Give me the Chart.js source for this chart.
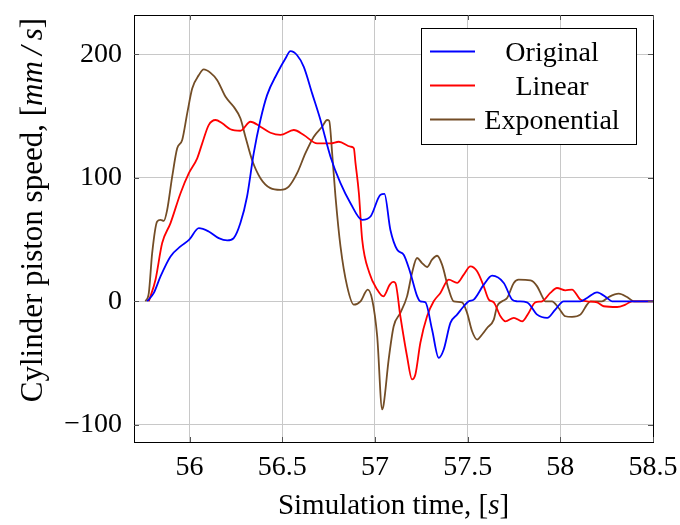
<!DOCTYPE html>
<html>
<head>
<meta charset="utf-8">
<script src="https://cdn.jsdelivr.net/npm/chart.js@4.4.1/dist/chart.umd.min.js"></script>
<style>
    html, body { margin: 0; padding: 0; background: #fff; }
    #wrap { width: 680px; height: 525px; }
</style>
</head>
<body>
<div id="wrap"><canvas id="speed-chart" width="680" height="525"></canvas></div>
<script>
// cylinder piston speed: original signal vs. linear and exponential fits

var xTicks = [56, 56.5, 57, 57.5, 58, 58.5];
var yTicks = [-100, 0, 100, 200];
var seriesNames = ['Original', 'Linear', 'Exponential'];

var origTime = [55.771, 55.807, 55.843, 55.897, 55.951, 55.998, 56.05, 56.103, 56.157, 56.203, 56.238, 56.274,
    56.31, 56.346, 56.382, 56.418, 56.472, 56.517, 56.544, 56.58, 56.616, 56.661, 56.706, 56.76, 56.814, 56.868,
    56.931, 56.976, 57.03, 57.051, 57.083, 57.12, 57.155, 57.191, 57.228, 57.245, 57.272, 57.308, 57.344, 57.371,
    57.407, 57.443, 57.479, 57.506, 57.533, 57.587, 57.632, 57.695, 57.74, 57.767, 57.82, 57.875, 57.929, 57.973,
    58.018, 58.108, 58.144, 58.198, 58.252, 58.279, 58.5];
var origSpeed = [0, 6.8, 20.2, 36.4, 44.5, 49.9, 59.3, 56.6, 51.2, 49.3, 51.2, 63.4,
    84.9, 120, 146.9, 167.1, 184.6, 196.8, 202.7, 199.4, 190, 168.5, 146.9, 117.2, 95.7, 79.5,
    66, 68.7, 86.3, 87, 58, 41.8, 37.8, 23, 4, 0, -0.8, -22.9, -45.8, -39,
    -17.5, -10.8, -4, 0, 1.4, 13.5, 20.8, 14.9, 1.4, 0, -0.8, -10.8, -13.4, -6.7,
    0, 0, 2.7, 7.3, 2.7, 0, 0];

var linTime = [55.78, 55.816, 55.852, 55.897, 55.951, 55.996, 56.041, 56.068, 56.103, 56.14, 56.176, 56.22,
    56.274, 56.328, 56.382, 56.436, 56.49, 56.562, 56.616, 56.688, 56.76, 56.805, 56.868, 56.886, 56.895, 56.913,
    56.931, 56.97, 57.012, 57.045, 57.08, 57.098, 57.11, 57.137, 57.173, 57.2, 57.218, 57.245, 57.281, 57.317,
    57.353, 57.398, 57.443, 57.479, 57.515, 57.551, 57.587, 57.614, 57.641, 57.677, 57.704, 57.749, 57.794, 57.829,
    57.865, 57.902, 57.946, 57.982, 58.027, 58.063, 58.108, 58.144, 58.198, 58.234, 58.306, 58.351, 58.387, 58.5];
var linSpeed = [0, 17.5, 47.2, 63.4, 87.6, 103.8, 115.9, 128, 142.8, 146.9, 144.2, 139.4,
    138.2, 145.5, 141.5, 136.6, 134.8, 138.8, 134.8, 128, 128, 129.3, 125.3, 124, 112, 88,
    50, 23, 9.5, 4, 13.5, 15.7, 14.9, -12.1, -44.5, -63.3, -59.3, -33.6, -12.1, 0,
    6.8, 17.5, 14.9, 21.6, 28.3, 24.3, 12.1, 1.4, -0.8, -12.1, -16.2, -13.4, -16.2, -9.4,
    -0.8, 0, 6.8, 10.8, 8.9, 9.5, 1.4, 0, -0.8, -4, -4.6, -2.7, 0, 0];

var expTime = [55.762, 55.78, 55.798, 55.825, 55.843, 55.861, 55.879, 55.906, 55.933, 55.96, 55.987, 56.014,
    56.05, 56.076, 56.113, 56.149, 56.194, 56.238, 56.274, 56.301, 56.337, 56.382, 56.436, 56.49, 56.535, 56.58,
    56.625, 56.67, 56.715, 56.742, 56.753, 56.769, 56.787, 56.814, 56.85, 56.886, 56.922, 56.961, 56.985, 57.012,
    57.039, 57.047, 57.074, 57.101, 57.137, 57.173, 57.2, 57.227, 57.254, 57.281, 57.308, 57.335, 57.362, 57.398,
    57.425, 57.47, 57.497, 57.524, 57.551, 57.578, 57.605, 57.641, 57.659, 57.686, 57.713, 57.749, 57.775, 57.839,
    57.875, 57.902, 57.919, 57.955, 57.991, 58.027, 58.063, 58.108, 58.144, 58.162, 58.225, 58.261, 58.315, 58.36,
    58.396, 58.5];
var expSpeed = [0, 6.8, 39.1, 64.7, 66, 65.2, 74.1, 101, 124, 130.7, 152.3, 172.5,
    183.3, 187.9, 185.1, 179.2, 165.7, 157.6, 148.3, 133.4, 114.5, 99.8, 91.7, 90.3, 93, 103.8,
    120, 133.4, 141.5, 146.9, 146.3, 120, 84.9, 44.5, 12.1, -2.7, 0, 9.5, 1.4, -28.3,
    -87.6, -83.5, -47.1, -20.2, -9.4, 4, 23, 35.1, 31, 27.8, 33.7, 36.9, 29.7, 9.5,
    0, -0.8, -9.4, -24.3, -31, -26.9, -21.6, -14.8, -4, 0, 2.7, 14.9, 17.5, 17,
    12.1, 4, 0, 0, -5.4, -12.1, -12.6, -10.8, -2.7, 0, 0, 3.5, 6.2, 3.5,
    0, 0];

var lineColors = ['#0000ff', '#ff0000', '#734d26'];

var serifFont = '"Liberation Serif", "Times New Roman", serif';

function toPoints(times, values) {
    return times.map(function (t, i) {
        return { x: t, y: values[i] };
    });
}

function minusSign(v) {
    return v < 0 ? '\u2212' + Math.abs(v) : String(v);
}

// draw text made of upright and italic pieces, centred on (0,0)
function drawPieces(ctx, pieces, size) {
    var total = 0;
    pieces.forEach(function (p) {
        ctx.font = (p.it ? 'italic ' : '') + size + 'px ' + serifFont;
        p.w = ctx.measureText(p.t).width;
        total += p.w;
    });
    var x = -total / 2;
    pieces.forEach(function (p) {
        ctx.font = (p.it ? 'italic ' : '') + size + 'px ' + serifFont;
        ctx.fillText(p.t, x, 0);
        x += p.w;
    });
}

// box frame with inward tick marks on all four sides
var frameTicks = {
    id: 'frameTicks',
    afterDatasetsDraw: function (chart) {
        var ctx = chart.ctx, a = chart.chartArea;
        var xs = chart.scales.x, ys = chart.scales.y;
        ctx.save();
        ctx.strokeStyle = '#000';
        ctx.lineWidth = 1;
        ctx.strokeRect(Math.round(a.left) + 0.5, Math.round(a.top) + 0.5,
            Math.round(a.right - a.left), Math.round(a.bottom - a.top));
        ctx.strokeStyle = '#555';
        ctx.beginPath();
        xTicks.forEach(function (v) {
            var px = Math.round(xs.getPixelForValue(v)) + 0.5;
            ctx.moveTo(px, a.bottom); ctx.lineTo(px, a.bottom - 5);
            ctx.moveTo(px, a.top); ctx.lineTo(px, a.top + 5);
        });
        yTicks.forEach(function (v) {
            var py = Math.round(ys.getPixelForValue(v)) + 0.5;
            ctx.moveTo(a.left, py); ctx.lineTo(a.left + 5, py);
            ctx.moveTo(a.right, py); ctx.lineTo(a.right - 5, py);
        });
        ctx.stroke();
        ctx.restore();
    }
};

// axis titles with italic units
var axisTitles = {
    id: 'axisTitles',
    afterDraw: function (chart) {
        var ctx = chart.ctx, a = chart.chartArea;
        ctx.save();
        ctx.fillStyle = '#000';
        ctx.textAlign = 'left';
        ctx.textBaseline = 'alphabetic';
        ctx.translate((a.left + a.right) / 2, 514);
        drawPieces(ctx, [{ t: 'Simulation time, [' }, { t: 's', it: true }, { t: ']' }], 29);
        ctx.restore();

        ctx.save();
        ctx.fillStyle = '#000';
        ctx.textAlign = 'left';
        ctx.textBaseline = 'alphabetic';
        ctx.translate(42, 210);
        ctx.rotate(-Math.PI / 2);
        drawPieces(ctx, [{ t: 'Cylinder piston speed, [' }, { t: 'mm\u2009/\u2009s', it: true }, { t: ']' }], 31);
        ctx.restore();
    }
};

// framed legend, upper right, labels centred
var boxLegend = {
    id: 'boxLegend',
    afterDraw: function (chart) {
        var ctx = chart.ctx, a = chart.chartArea;
        var w = 215, h = 116;
        var left = Math.round(a.right - 17 - w), top = Math.round(a.top + 13);
        ctx.save();
        ctx.fillStyle = '#fff';
        ctx.fillRect(left, top, w, h);
        ctx.strokeStyle = '#000';
        ctx.lineWidth = 1;
        ctx.strokeRect(left + 0.5, top + 0.5, w, h);
        ctx.font = '28px ' + serifFont;
        ctx.textAlign = 'center';
        ctx.textBaseline = 'alphabetic';
        chart.data.datasets.forEach(function (ds, i) {
            var y = top + 23.5 + i * 34;
            ctx.strokeStyle = ds.borderColor;
            ctx.lineWidth = 2;
            ctx.beginPath();
            ctx.moveTo(left + 9, y);
            ctx.lineTo(left + 54, y);
            ctx.stroke();
            ctx.fillStyle = '#000';
            ctx.fillText(ds.label, left + 131, y + 9);
        });
        ctx.restore();
    }
};

var datasets = [
    { label: seriesNames[0], data: toPoints(origTime, origSpeed), borderColor: lineColors[0] },
    { label: seriesNames[1], data: toPoints(linTime, linSpeed), borderColor: lineColors[1] },
    { label: seriesNames[2], data: toPoints(expTime, expSpeed), borderColor: lineColors[2] }
];
datasets.forEach(function (ds) {
    ds.borderWidth = 1.8;
    ds.pointRadius = 0;
    ds.fill = false;
    ds.cubicInterpolationMode = 'monotone';
});

var ctx = document.getElementById('speed-chart').getContext('2d');

var speedChart = new Chart(ctx, {
    type: 'line',
    data: { datasets: datasets },
    options: {
        responsive: false,
        animation: false,
        devicePixelRatio: 1,
        layout: {
            padding: { top: 15, right: 27, left: 0, bottom: 0 }
        },
        scales: {
            x: {
                type: 'linear',
                min: 55.7,
                max: 58.5,
                afterBuildTicks: function (scale) {
                    scale.ticks = xTicks.map(function (v) { return { value: v }; });
                },
                afterFit: function (scale) {
                    scale.height = 83;
                    scale.paddingLeft = 0;
                    scale.paddingRight = 0;
                },
                ticks: {
                    color: '#000',
                    font: { family: serifFont, size: 28 },
                    padding: 9,
                    maxRotation: 0,
                    autoSkip: false,
                    callback: function (v) { return String(v); }
                },
                grid: { color: '#c8c8c8', drawTicks: false },
                border: { display: true, color: '#000' }
            },
            y: {
                min: -114,
                max: 232,
                afterBuildTicks: function (scale) {
                    scale.ticks = yTicks.map(function (v) { return { value: v }; });
                },
                afterFit: function (scale) {
                    scale.width = 134;
                    scale.paddingTop = 0;
                    scale.paddingBottom = 0;
                },
                ticks: {
                    color: '#000',
                    font: { family: serifFont, size: 28 },
                    padding: 12,
                    autoSkip: false,
                    callback: function (v) { return minusSign(v); }
                },
                grid: { color: '#c8c8c8', drawTicks: false },
                border: { display: true, color: '#000' }
            }
        },
        plugins: {
            legend: { display: false },
            tooltip: { enabled: false }
        }
    },
    plugins: [frameTicks, axisTitles, boxLegend]
});
</script>
</body>
</html>
